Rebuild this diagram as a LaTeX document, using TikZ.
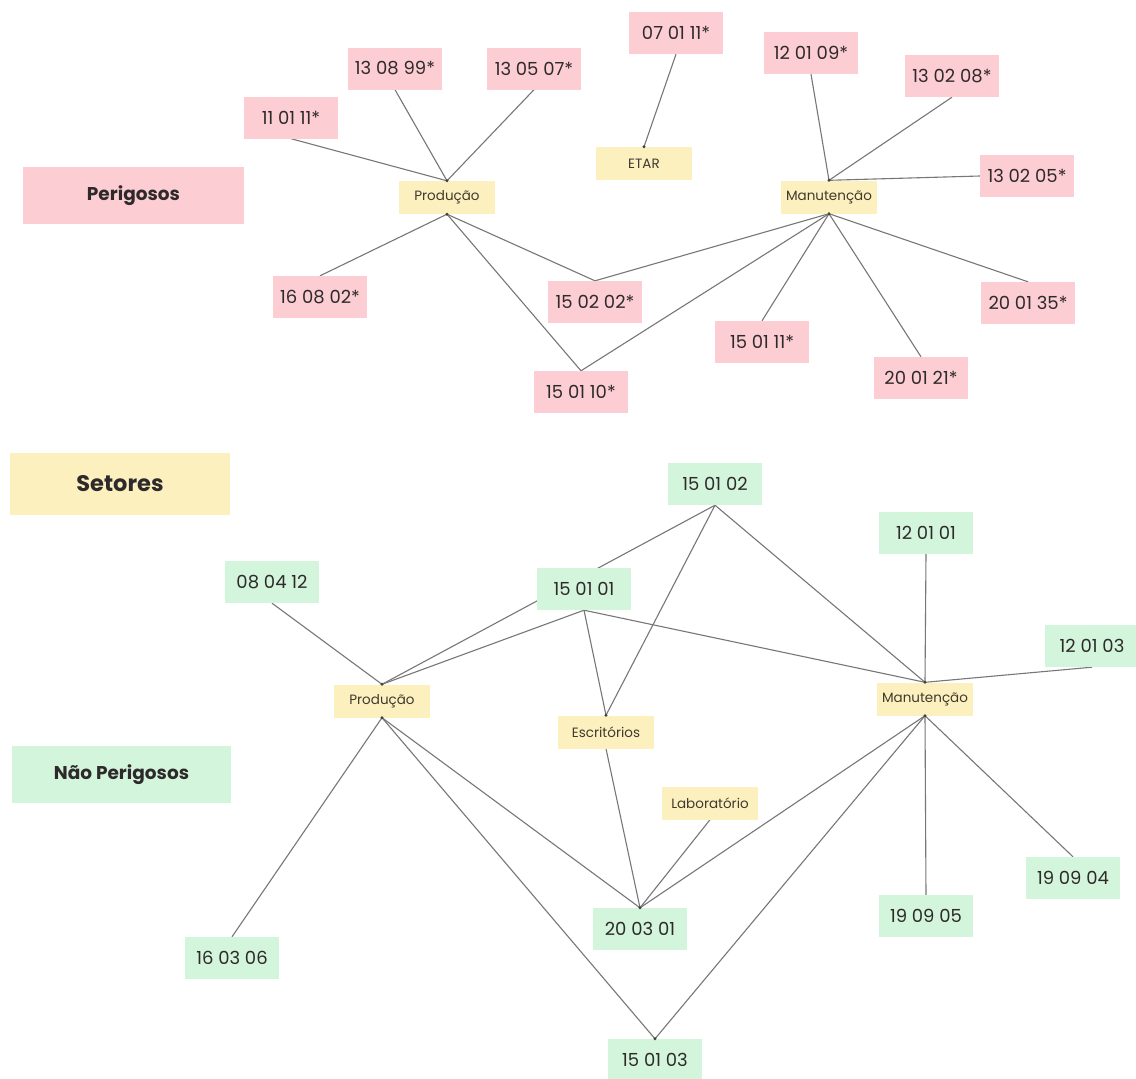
\documentclass[tikz,border=0pt]{standalone}
\usepackage{fontspec}
\setmainfont{Poppins}
\usetikzlibrary{backgrounds}
\definecolor{pinkc}{HTML}{FCCDD3}
\definecolor{yelc}{HTML}{FDF0BF}
\definecolor{grnc}{HTML}{D3F5DB}
\definecolor{linec}{HTML}{777777}
\definecolor{txtc}{HTML}{2E2A2B}
\definecolor{sectxt}{HTML}{3E3A2E}
\tikzset{
  box/.style={inner sep=0pt, text=txtc, anchor=center},
  code/.style={box, minimum width=94pt, minimum height=42pt, font=\fontsize{18}{19}\selectfont},
  pk/.style={code, fill=pinkc},
  gr/.style={code, fill=grnc},
  sect/.style={box, fill=yelc, text=sectxt, minimum width=96pt, minimum height=33pt, font=\fontsize{13.5}{14}\selectfont},
  legend/.style={box, font=\bfseries\fontsize{18.5}{20}\selectfont},
  ln/.style={draw=linec, line width=1.1pt},
  dotc/.style={fill=black!75}
}
\begin{document}
\begin{tikzpicture}[x=1pt,y=-1pt]
\useasboundingbox (0,0) rectangle (1136,1079);
% legends
\node[legend, fill=pinkc, minimum width=221pt, minimum height=57pt] (lgP) at (133.5,195.5) {Perigosos};
\node[legend, fill=yelc, minimum width=220pt, minimum height=62pt, font=\bfseries\fontsize{22.5}{24}\selectfont] (lgS) at (120,484) {Setores};
\node[legend, fill=grnc, minimum width=219pt, minimum height=57pt] (lgN) at (121.5,774.5) {Não Perigosos};
% top: hazardous
\node[pk] (a110111) at (291,117.5) {11 01 11*};
\node[pk] (a130899) at (395,68.5) {13 08 99*};
\node[pk] (a130507) at (534,68.5) {13 05 07*};
\node[pk] (a070111) at (676,33) {07 01 11*};
\node[pk] (a120109) at (811,53) {12 01 09*};
\node[pk] (a130208) at (952,76) {13 02 08*};
\node[pk] (a130205) at (1027,176) {13 02 05*};
\node[pk] (a160802) at (320,297) {16 08 02*};
\node[pk] (a150202) at (595,302) {15 02 02*};
\node[pk] (a150110) at (581,392) {15 01 10*};
\node[pk] (a150111) at (762,342) {15 01 11*};
\node[pk] (a200121) at (921,378) {20 01 21*};
\node[pk] (a200135) at (1028,303) {20 01 35*};
\node[sect] (prodT) at (447,197.5) {Produção};
\node[sect] (etar) at (644,163.5) {ETAR};
\node[sect] (manT) at (829,197) {Manutenção};
% bottom: non hazardous
\node[gr] (b150102) at (715,484) {15 01 02};
\node[gr] (b120101) at (926,533) {12 01 01};
\node[gr] (b080412) at (272,582) {08 04 12};
\node[gr] (b150101) at (584,589) {15 01 01};
\node[gr] (b120103) at (1092,646) {12 01 03};
\node[gr] (b190904) at (1073,878) {19 09 04};
\node[gr] (b190905) at (926,916) {19 09 05};
\node[gr] (b200301) at (640,929) {20 03 01};
\node[gr] (b160306) at (232,958) {16 03 06};
\node[gr] (b150103) at (655,1060) {15 01 03};
\node[sect] (prodB) at (382,701) {Produção};
\node[sect] (escr) at (606,732) {Escritórios};
\node[sect] (manB) at (925,699) {Manutenção};
\node[sect] (lab) at (710,803) {Laboratório};
\begin{scope}[on background layer]
\fill[white] (0,0) rectangle (1136,1079);
% top edges
\draw[ln] (a110111.south) -- (prodT.north);
\draw[ln] (a130899.south) -- (prodT.north);
\draw[ln] (a130507.south) -- (prodT.north);
\draw[ln] (a160802.north) -- (prodT.south);
\draw[ln] (prodT.south) -- (a150202.north);
\draw[ln] (prodT.south) -- (a150110.north);
\draw[ln] (a070111.south) -- (etar.north);
\draw[ln] (a120109.south) -- (manT.north);
\draw[ln] (a130208.south) -- (manT.north);
\draw[ln] (a130205.west) -- (manT.north);
\draw[ln] (manT.south) -- (a150202.north);
\draw[ln] (manT.south) -- (a150110.north);
\draw[ln] (manT.south) -- (a150111.north);
\draw[ln] (manT.south) -- (a200121.north);
\draw[ln] (manT.south) -- (a200135.north);
% bottom edges
\draw[ln] (b080412.south) -- (prodB.north);
\draw[ln] (b150101.south) -- (prodB.north);
\draw[ln] (b150102.south) -- (prodB.north);
\draw[ln] (b150101.south) -- (escr.north);
\draw[ln] (b150102.south) -- (escr.north);
\draw[ln] (b150101.south) -- (manB.north);
\draw[ln] (b150102.south) -- (manB.north);
\draw[ln] (b120101.south) -- (manB.north);
\draw[ln] (b120103.south) -- (manB.north);
\draw[ln] (prodB.south) -- (b160306.north);
\draw[ln] (prodB.south) -- (b200301.north);
\draw[ln] (prodB.south) -- (b150103.north);
\draw[ln] (escr.south) -- (b200301.north);
\draw[ln] (lab.south) -- (b200301.north);
\draw[ln] (manB.south) -- (b200301.north);
\draw[ln] (manB.south) -- (b150103.north);
\draw[ln] (manB.south) -- (b190905.north);
\draw[ln] (manB.south) -- (b190904.north);
\end{scope}
% junction dots
\foreach \p in {prodT.north,prodT.south,manT.north,manT.south,etar.north,prodB.north,prodB.south,manB.north,manB.south,escr.north,b200301.north,b150103.north}
  \fill[dotc] (\p) circle (1.6pt);
\end{tikzpicture}
\end{document}
